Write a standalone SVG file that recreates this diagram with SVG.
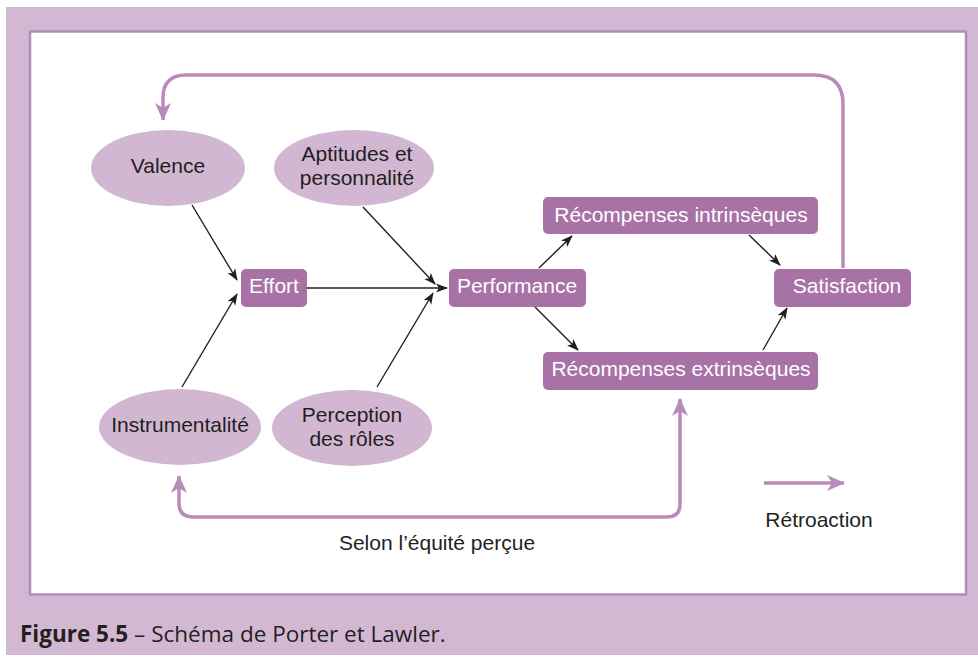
<svg xmlns="http://www.w3.org/2000/svg" width="978" height="657" viewBox="0 0 978 657">
  <style>
    .oval { fill: #d2b7d3; }
    .box { fill: #a872a6; }
    text { font-family: "Liberation Sans", Arial, Helvetica, sans-serif; }
    .lbl { font-size: 21px; fill: #231f20; text-anchor: middle; }
    .wlbl { font-size: 21px; fill: #ffffff; text-anchor: middle; }
    .link { fill: none; stroke: #231f20; stroke-width: 1.4; marker-end: url(#tip); }
    .loop { fill: none; stroke: #b98bba; stroke-width: 3.5; }
    .cap { font-size: 22.5px; fill: #231f20; }
  </style>
  <defs>
    <marker id="tip" viewBox="0 0 12 10" refX="11" refY="5" markerWidth="12" markerHeight="10" markerUnits="userSpaceOnUse" orient="auto">
      <path d="M0,0.5 L12,5 L0,9.5 L3,5 Z" fill="#231f20"/>
    </marker>
    <marker id="fb" viewBox="0 0 18 16" refX="17" refY="8" markerWidth="18" markerHeight="16" markerUnits="userSpaceOnUse" orient="auto-start-reverse">
      <path d="M0,0 L18,8 L0,16 L5,8 Z" fill="#b98bba"/>
    </marker>
  </defs>

  <!-- frame -->
  <rect x="6" y="7" width="972" height="648" fill="#d3b8d4"/>
  <rect x="30" y="31.5" width="936" height="563" fill="#ffffff" stroke="#b58bb7" stroke-width="2.5"/>

  <!-- connectors -->
  <g id="connectors">
    <path class="loop" d="M843,268 V104 Q843,75 814,75 H186 Q163,75 163,98 V120" marker-end="url(#fb)"/>
    <path class="loop" d="M179,476 V503 Q179,517 193,517 H667 Q680,517 680,504 V399" marker-start="url(#fb)" marker-end="url(#fb)"/>
    <line class="link" x1="192" y1="205" x2="237" y2="280"/>
    <line class="link" x1="182" y1="387" x2="237" y2="294"/>
    <line class="link" x1="307" y1="288" x2="447" y2="288"/>
    <line class="link" x1="363" y1="207" x2="435" y2="284"/>
    <line class="link" x1="377" y1="387" x2="433" y2="293"/>
    <line class="link" x1="539" y1="268" x2="572" y2="236"/>
    <line class="link" x1="535" y1="307" x2="578" y2="350"/>
    <line class="link" x1="749" y1="235" x2="780" y2="265"/>
    <line class="link" x1="763" y1="350" x2="787" y2="308"/>
    <!-- legend -->
    <line class="loop" x1="764" y1="483" x2="844" y2="483" marker-end="url(#fb)"/>
  </g>

  <g id="valence">
    <ellipse class="oval" cx="168" cy="168" rx="77" ry="38"/>
    <text class="lbl" x="168" y="173">Valence</text>
  </g>
  <g id="aptitudes">
    <ellipse class="oval" cx="354" cy="168" rx="80" ry="38"/>
    <text class="lbl" x="357" y="161">Aptitudes et</text>
    <text class="lbl" x="357" y="185">personnalité</text>
  </g>
  <g id="effort">
    <rect class="box" x="241" y="269" width="66" height="38" rx="5"/>
    <text class="wlbl" x="274" y="293">Effort</text>
  </g>
  <g id="performance">
    <rect class="box" x="449" y="269" width="137" height="38" rx="5"/>
    <text class="wlbl" x="517" y="293">Performance</text>
  </g>
  <g id="intrinseques">
    <rect class="box" x="543" y="197" width="275" height="37" rx="5"/>
    <text class="wlbl" x="681" y="222">Récompenses intrinsèques</text>
  </g>
  <g id="extrinseques">
    <rect class="box" x="543" y="352" width="275" height="38" rx="5"/>
    <text class="wlbl" x="681" y="376">Récompenses extrinsèques</text>
  </g>
  <g id="satisfaction">
    <rect class="box" x="774" y="269" width="137" height="38" rx="5"/>
    <text class="wlbl" x="847" y="293">Satisfaction</text>
  </g>
  <g id="instrumentalite">
    <ellipse class="oval" cx="180" cy="427" rx="81" ry="38"/>
    <text class="lbl" x="180" y="432">Instrumentalité</text>
  </g>
  <g id="perception">
    <ellipse class="oval" cx="352" cy="428" rx="80" ry="38"/>
    <text class="lbl" x="352" y="422">Perception</text>
    <text class="lbl" x="352" y="446">des rôles</text>
  </g>

  <text class="lbl" x="437" y="550">Selon l’équité perçue</text>
  <text class="lbl" x="819" y="527">Rétroaction</text>

  <text class="cap" x="20" y="642" style="font-family: 'Open Sans', 'Noto Sans', sans-serif"><tspan font-weight="bold">Figure 5.5</tspan> – Schéma de Porter et Lawler.</text>
</svg>
